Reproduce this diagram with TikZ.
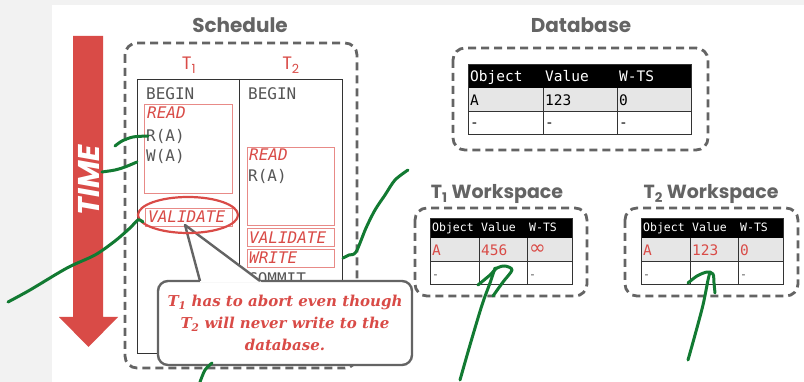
\documentclass[tikz,border=0pt]{standalone}
\usepackage{fontspec}
\setmainfont{DejaVu Serif}
\setsansfont{Poppins}
\setmonofont{DejaVu Sans Mono}
\newfontfamily\symfont{DejaVu Sans}
\usetikzlibrary{shapes.geometric}
\definecolor{slidered}{HTML}{D94B47}
\definecolor{phasered}{HTML}{E88A87}
\definecolor{dashgray}{HTML}{646464}
\definecolor{txtgray}{HTML}{555555}
\definecolor{pen}{HTML}{127A32}
\definecolor{rowgray}{HTML}{E6E6E6}
\definecolor{margin}{HTML}{F2F2F2}
\newcommand{\monosz}[1]{\ttfamily\fontsize{#1}{#1}\selectfont}
\begin{document}
\begin{tikzpicture}[x=1pt,y=-1pt,
  groupbox/.style={draw=dashgray, line width=2.8pt, dash pattern=on 8pt off 5pt, rounded corners=12pt},
  title/.style={font=\sffamily\bfseries\fontsize{20}{20}\selectfont, text=dashgray, anchor=base, inner sep=0pt},
  wstitle/.style={title, font=\sffamily\bfseries\fontsize{19}{19}\selectfont},
  coltitle/.style={font=\sffamily\fontsize{18}{18}\selectfont, text=slidered, anchor=base, inner sep=0pt},
  op/.style={font=\monosz{16}, text=txtgray, anchor=base west, inner sep=0pt},
  phase/.style={font=\monosz{16}\itshape, text=slidered, anchor=base west, inner sep=0pt},
  phasebox/.style={draw=phasered, line width=0.9pt},
  frame/.style={draw=black!80, line width=0.9pt},
  cell/.style={anchor=base west, inner sep=0pt},
  penline/.style={draw=pen, line width=3pt, line cap=round, line join=round},
  callout/.style={draw=dashgray, line width=2.4pt, fill=white, rounded corners=10pt},
]
% slide background
\fill[margin] (0,0) rectangle (804,382);
\fill[white] (52,5) rectangle (804,382);
\useasboundingbox (0,0) rectangle (804,382);

% time arrow
\fill[slidered] (73,36) -- (103,36) -- (103,317) -- (118,317) -- (88.5,347)
  -- (59,317) -- (73,317) -- cycle;
\node[rotate=90, text=white, font=\sffamily\bfseries\itshape\fontsize{30}{30}\selectfont,
  inner sep=0pt] (time) at (89,180) {TIME};

% schedule
\node[title] (schedtitle) at (240,33) {Schedule};
\draw[groupbox] (125,43) rectangle (357,368);
\node[coltitle] (t1) at (189,70) {T\textsubscript{1}};
\node[coltitle] (t2) at (291,70) {T\textsubscript{2}};
\draw[frame] (137,79) rectangle (342,353);
\draw[frame] (239,79) -- (239,353);

% T1 operations
\node[op] (b1) at (146,100) {BEGIN};
\draw[phasebox] (144,104) rectangle (232,193);
\node[phase] (rd1) at (147,119) {READ};
\node[op] (r1) at (146,142) {R(A)};
\node[op] (w1) at (146,162) {W(A)};
\draw[phasebox] (145,208) rectangle (232,226);
\node[phase] (val1) at (148,223) {VALIDATE};

% T2 operations
\node[op] (b2) at (248,100) {BEGIN};
\draw[phasebox] (247,147) rectangle (334,225);
\node[phase] (rd2) at (249,161) {READ};
\node[op] (r2) at (248,182) {R(A)};
\draw[phasebox] (247,228) rectangle (334,246);
\node[phase] (val2) at (249,244) {VALIDATE};
\draw[phasebox] (247,249) rectangle (334,267);
\node[phase] (wr2) at (249,264) {WRITE};
\node[op] (cm2) at (248,285) {COMMIT};

% database
\node[title] (dbtitle) at (581,33) {Database};
\draw[groupbox] (453,48) rectangle (708,150);
\fill[black] (468,64) rectangle (691,88);
\fill[rowgray] (468,88) rectangle (691,111);
\draw[frame] (468,64) rectangle (691,134);
\draw[frame] (468,111) -- (691,111);
\draw[frame] (543,88) -- (543,134);
\draw[frame] (617,88) -- (617,134);
\begin{scope}[every node/.style={cell, font=\monosz{14.5}}]
  \node[text=white] (dbh1) at (470,82) {Object};
  \node[text=white] (dbh2) at (545,82) {Value};
  \node[text=white] (dbh3) at (619,82) {W-TS};
  \node (dba1) at (470,106) {A};
  \node (dba2) at (545,106) {123};
  \node (dba3) at (619,106) {0};
  \node (dbb1) at (470,128) {-};
  \node (dbb2) at (545,128) {-};
  \node (dbb3) at (619,128) {-};
\end{scope}

% T1 workspace
\node[wstitle] (ws1title) at (497,199) {T\textsubscript{1} Workspace};
\draw[groupbox] (415,208) rectangle (587,296);
\fill[black] (430,218) rectangle (572,238);
\fill[rowgray] (430,238) rectangle (572,261);
\draw[frame] (430,218) rectangle (572,284);
\draw[frame] (430,261) -- (572,261);
\draw[frame] (479,238) -- (479,284);
\draw[frame] (527,238) -- (527,284);
\begin{scope}[every node/.style={cell, font=\monosz{11.5}}]
  \node[text=white] (w1h1) at (432,232) {Object};
  \node[text=white] (w1h2) at (481,232) {Value};
  \node[text=white] (w1h3) at (529,232) {W-TS};
  \node[text=txtgray] (w1b1) at (432,279) {-};
  \node[text=txtgray] (w1b3) at (529,279) {-};
\end{scope}
\begin{scope}[every node/.style={cell, font=\monosz{14.5}, text=slidered}]
  \node (w1a1) at (432,256) {A};
  \node (w1a2) at (481,256) {456};
  \node[font=\symfont\fontsize{20}{20}\selectfont] (w1a3) at (529,255) {∞};
\end{scope}

% T2 workspace
\node[wstitle] (ws2title) at (711,199) {T\textsubscript{2} Workspace};
\draw[groupbox] (625,208) rectangle (798,296);
\fill[black] (641,218) rectangle (783,238);
\fill[rowgray] (641,238) rectangle (783,261);
\draw[frame] (641,218) rectangle (783,284);
\draw[frame] (641,261) -- (783,261);
\draw[frame] (690,238) -- (690,284);
\draw[frame] (738,238) -- (738,284);
\begin{scope}[every node/.style={cell, font=\monosz{11.5}}]
  \node[text=white] (w2h1) at (643,232) {Object};
  \node[text=white] (w2h2) at (692,232) {Value};
  \node[text=white] (w2h3) at (740,232) {W-TS};
  \node[text=txtgray] (w2b1) at (643,279) {-};
  \node[text=txtgray] (w2b3) at (740,279) {-};
\end{scope}
\begin{scope}[every node/.style={cell, font=\monosz{14.5}, text=slidered}]
  \node (w2a1) at (643,256) {A};
  \node (w2a2) at (692,256) {123};
  \node (w2a3) at (740,256) {0};
\end{scope}

% callout
\node[callout, minimum width=254pt, minimum height=84pt, inner sep=0pt] (note) at (285,323) {};
\fill[white] (185,225) -- (200.4,282.6) -- (262,282.6) -- cycle;
\draw[draw=dashgray, line width=2.4pt, line join=round] (200,281) -- (185,225) -- (260,281);
\node[text=slidered, align=center, font=\bfseries\itshape\fontsize{15}{22}\selectfont]
  (notetext) at (note.center) {T\textsubscript{1} has to abort even though\\
  T\textsubscript{2} will never write to the\\ database.};

% ring around the validation of T1
\node[draw=slidered, line width=2.2pt, ellipse, minimum width=100pt, minimum height=36pt,
  inner sep=0pt] (ring) at (188,215) {};

% pen annotations
\draw[penline] plot[smooth] coordinates {(115,146) (122,141) (133,137) (148,136)};
\draw[penline] plot[smooth] coordinates {(102,172) (115,170) (125,167) (137,162)};
\draw[penline] plot[smooth] coordinates {(8,302) (30,290) (67,268) (95,255) (115,241) (130,228) (138,220) (143,222)};
\draw[penline] plot[smooth] coordinates {(343,258) (349,255) (356,252) (366,228) (375,210) (385,195) (395,180) (408,170)};
\draw[penline] plot[smooth] coordinates {(200,382) (205,370) (212,363)};
\draw[penline] plot[smooth] coordinates {(460,380) (470,345) (482,305) (490,283) (495,268)};
\draw[penline] plot[smooth] coordinates {(478,285) (490,275) (497,268) (505,266) (512,270) (503,282) (493,296)};
\draw[penline] plot[smooth] coordinates {(688,360) (695,335) (703,305) (708,280) (710,272)};
\draw[penline] plot[smooth] coordinates {(688,283) (697,276) (707,272) (713,274) (714,283) (715,293)};
\end{tikzpicture}
\end{document}
